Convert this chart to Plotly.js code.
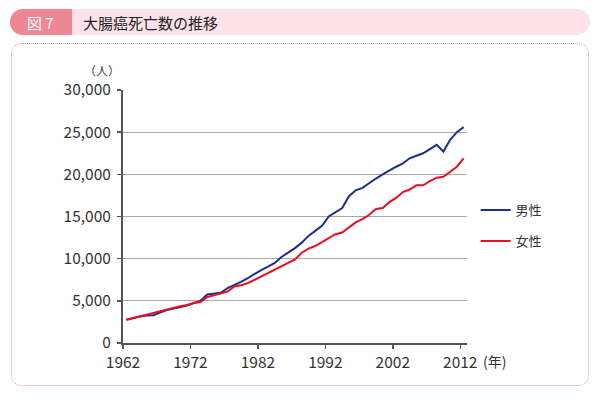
<!DOCTYPE html>
<html>
<head>
<meta charset="utf-8">
<script src="https://cdn.plot.ly/plotly-3.0.1.min.js"></script>
<style>
  html, body { margin: 0; padding: 0; background: #fff; }
  #wrap { position: relative; width: 600px; height: 399px; overflow: hidden; }
  #hdr { position: absolute; left: 10px; top: 9px; width: 580px; height: 26px; background: #fde3e9; border-radius: 13px; }
  #tab { position: absolute; left: 10px; top: 9px; width: 62px; height: 26px; background: #ee8794; border-radius: 13px 0 0 13px; }
  #frame { position: absolute; left: 11px; top: 43px; width: 576px; height: 341px; border: 1.5px dotted #ec8ca8; border-radius: 10px; }
  #chart { position: absolute; left: 0; top: 0; width: 600px; height: 399px; }
</style>
</head>
<body>
<div id="wrap">
  <div id="hdr"></div>
  <div id="tab"></div>
  <div id="frame"></div>
  <div id="chart"></div>
</div>
<script>
const years = [];
for (let y = 1962; y <= 2012; y++) years.push(y);

const male = [2750, 2950, 3150, 3250, 3300, 3600, 3900, 4100, 4300, 4450,
              4750, 5000, 5750, 5850, 5950, 6500, 6850, 7250, 7700, 8200,
              8650, 9050, 9500, 10200, 10700, 11250, 11900, 12700, 13300, 13900,
              15000, 15500, 16000, 17400, 18100, 18400, 19000, 19500, 20000, 20500,
              20900, 21300, 21900, 22200, 22500, 23000, 23500, 22700, 24100, 25000,
              25600];
const female = [2750, 2950, 3200, 3350, 3550, 3750, 4000, 4200, 4350, 4500,
                4750, 4850, 5450, 5650, 5850, 6100, 6700, 6850, 7100, 7500,
                7900, 8350, 8700, 9100, 9500, 9900, 10700, 11200, 11500, 12000,
                12500, 12900, 13100, 13700, 14300, 14700, 15200, 15900, 16000, 16700,
                17200, 17900, 18200, 18700, 18700, 19200, 19600, 19700, 20300, 20900,
                21900];

const seriesNames = ['男性', '女性'];
const tickYears = ['1962', '1972', '1982', '1992', '2002', '2012'];
const tickPos = tickYears.map(s => Number(s) - 0.5);
const yTicks = [0, 5000, 10000, 15000, 20000, 25000, 30000];

const FONT = '"Noto Sans CJK JP", "Noto Sans", sans-serif';

const traces = [
  { x: years, y: male, name: seriesNames[0], type: 'scatter', mode: 'lines',
    line: { color: '#1c2f8c', width: 2 }, legendgroup: 'm' },
  { x: years, y: female, name: seriesNames[1], type: 'scatter', mode: 'lines',
    line: { color: '#e8101c', width: 2 }, legendgroup: 'f' }
];

const layout = {
  width: 600, height: 399,
  margin: { l: 123, r: 133, t: 90, b: 56, pad: 0 },
  paper_bgcolor: 'rgba(0,0,0,0)',
  plot_bgcolor: 'rgba(0,0,0,0)',
  font: { family: FONT, color: '#333', size: 15 },
  showlegend: true,
  legend: {
    x: 1.025, y: 0.464, xanchor: 'left', yanchor: 'middle',
    font: { family: FONT, size: 13, color: '#333' },
    traceorder: 'grouped', tracegroupgap: 11,
    bgcolor: 'rgba(0,0,0,0)', itemwidth: 30
  },
  xaxis: {
    range: [1961.5, 2012.5],
    tickmode: 'array', tickvals: tickPos, ticktext: tickYears,
    showgrid: false, zeroline: false,
    showline: true, linecolor: '#555', linewidth: 2,
    ticks: 'outside', ticklen: 4, tickwidth: 1.5, tickcolor: '#555',
    tickfont: { family: FONT, size: 15.5, color: '#333' }
  },
  yaxis: {
    range: [0, 30000],
    tickmode: 'array', tickvals: yTicks,
    tickformat: ',d',
    showgrid: true, gridcolor: '#a8a8a8', gridwidth: 1,
    zeroline: false,
    showline: true, linecolor: '#555', linewidth: 2,
    ticks: 'outside', ticklen: 4, tickwidth: 1.5, tickcolor: '#555',
    ticklabelstandoff: 3,
    tickfont: { family: FONT, size: 15.5, color: '#333' }
  },
  annotations: [
    { text: '（人）', xref: 'paper', yref: 'paper', x: -0.06, y: 1.035,
      xanchor: 'center', yanchor: 'bottom', showarrow: false,
      font: { family: FONT, size: 12, color: '#444' } },
    { text: '(年)', xref: 'paper', yref: 'paper', x: (481 - 123) / 344, y: (343 - 361) / 253,
      xanchor: 'left', yanchor: 'middle', showarrow: false,
      font: { family: FONT, size: 14, color: '#333' } },
    { text: '図 7', xref: 'paper', yref: 'paper', x: (40 - 123) / 344, y: (343 - 22) / 253,
      xanchor: 'center', yanchor: 'middle', showarrow: false,
      font: { family: FONT, size: 15, color: '#ffffff' } },
    { text: '大腸癌死亡数の推移', xref: 'paper', yref: 'paper', x: (81 - 123) / 344, y: (343 - 22) / 253,
      xanchor: 'left', yanchor: 'middle', showarrow: false,
      font: { family: FONT, size: 15, color: '#222' } }
  ]
};

Plotly.newPlot('chart', traces, layout, { displayModeBar: false, staticPlot: true });
</script>
</body>
</html>
